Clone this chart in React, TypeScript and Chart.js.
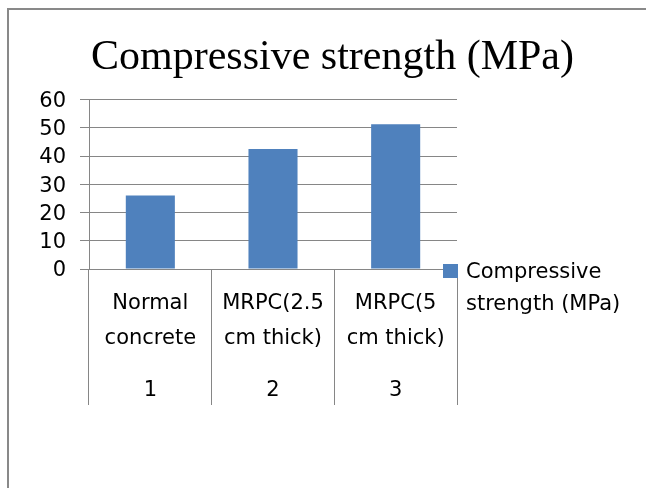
import React, { useEffect, useRef } from "react";
import { Chart, registerables } from "chart.js";

Chart.register(...registerables);

// ---- data ----
const categoryLines: string[][] = [
  ["Normal", "concrete"],
  ["MRPC(2.5", "cm thick)"],
  ["MRPC(5", "cm thick)"],
];
const groupNumbers = ["1", "2", "3"];
const strengthValues = [26, 42.5, 51.2];
const seriesName = "Compressive strength (MPa)";
const legendLines = ["Compressive", "strength (MPa)"];
const chartTitle = "Compressive strength (MPa)";
const yMin = 0;
const yMax = 60;
const yStep = 10;

const BAR_COLOR = "#4F81BD";
const GRID_COLOR = "#868686";
const SANS = '"DejaVu Sans", sans-serif';

const sideLegend = {
  id: "sideLegend",
  afterDraw(chart: any) {
    const { ctx, chartArea } = chart;
    const ds = chart.data.datasets[0];
    ctx.save();
    const bx = chartArea.right - 14;
    const by = chartArea.bottom - 5;
    ctx.fillStyle = ds.backgroundColor;
    ctx.fillRect(bx, by, 15, 14);
    ctx.fillStyle = "#000";
    ctx.font = `21px ${SANS}`;
    ctx.textBaseline = "middle";
    ctx.textAlign = "left";
    legendLines.forEach((line, i) => {
      ctx.fillText(line, chartArea.right + 9, by + 9 + i * 32);
    });
    ctx.restore();
  },
};

export default function App() {
  const ref = useRef<HTMLCanvasElement>(null);
  useEffect(() => {
    if (!ref.current) return;
    const labels = categoryLines.map((l, i) => [l[0], "", l[1], "", "", groupNumbers[i]]);
    const chart = new Chart(ref.current, {
      type: "bar",
      data: {
        labels,
        datasets: [
          {
            label: seriesName,
            data: strengthValues,
            backgroundColor: BAR_COLOR,
            borderWidth: 0,
            categoryPercentage: 1,
            barPercentage: 0.4,
            yAxisID: "y",
          },
        ],
      },
      options: {
        responsive: false,
        animation: false,
        devicePixelRatio: 1,
        layout: { padding: { left: 19, right: 0, top: 0, bottom: 83 } },
        plugins: {
          legend: { display: false },
          tooltip: { enabled: false },
          title: {
            display: true,
            text: chartTitle,
            color: "#000",
            font: { family: '"Liberation Serif", serif', size: 42, weight: "normal", lineHeight: 1.2 },
            padding: { top: 32.8, bottom: 16.3 },
          },
        },
        scales: {
          x: {
            grid: {
              display: true,
              offset: true,
              drawOnChartArea: false,
              drawTicks: true,
              tickLength: 136,
              color: GRID_COLOR,
            },
            border: { display: true, color: GRID_COLOR },
            ticks: {
              color: "#000",
              font: { family: SANS, size: 21, lineHeight: 17.5 / 21 },
              padding: -110.5,
              maxRotation: 0,
              minRotation: 0,
              autoSkip: false,
            },
            afterFit: (s: any) => {
              s.height = 136;
            },
          },
          y: {
            position: "left",
            min: yMin,
            max: yMax,
            ticks: {
              stepSize: yStep,
              color: "#000",
              font: { family: SANS, size: 21 },
              padding: 14,
              labelOffset: 2,
            },
            grid: { color: GRID_COLOR, tickLength: 9, drawTicks: true },
            border: { display: true, color: GRID_COLOR },
            afterFit: (s: any) => {
              s.width = 70;
            },
          },
          pad: {
            type: "linear",
            position: "right",
            display: true,
            grid: { display: false },
            border: { display: false },
            ticks: { display: false },
            afterFit: (s: any) => {
              s.width = 189;
            },
          },
        },
      },
      plugins: [sideLegend],
    } as any);
    return () => chart.destroy();
  }, []);

  return (
    <>
      <canvas
        ref={ref}
        width={646}
        height={488}
        style={{ position: "fixed", left: 0, top: 0, width: 646, height: 488, background: "#fff" }}
      />
      <div
        style={{
          position: "fixed",
          left: 7,
          top: 8,
          width: 639,
          height: 480,
          borderTop: "2px solid #898989",
          borderLeft: "2px solid #898989",
          boxSizing: "border-box",
          pointerEvents: "none",
        }}
      />
    </>
  );
}
